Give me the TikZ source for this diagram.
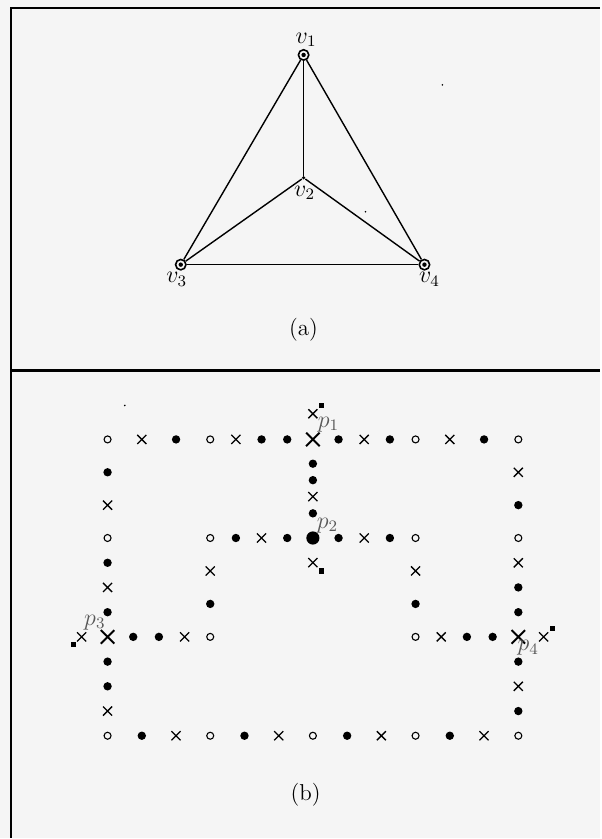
\documentclass[tikz,border=0pt]{standalone}
\usepackage{tikz}
\usetikzlibrary{shapes.misc,positioning}

\begin{document}
\begin{tikzpicture}[
    x=0.5pt, y=-0.5pt,
    font=\fontsize{11.5}{14}\selectfont,
    framebox/.style={line width=1.1pt},
    edge/.style={line width=0.7pt},
    ringvtx/.style={circle, draw, line width=0.8pt, minimum size=5.2pt, inner sep=0pt, path picture={\fill (path picture bounding box.center) circle (1.1pt);}},
    dotvtx/.style={circle, fill, minimum size=1.8pt, inner sep=0pt},
    emptypt/.style={circle, draw, line width=0.55pt, minimum size=3.5pt, inner sep=0pt},
    fullpt/.style={circle, fill, minimum size=4.2pt, inner sep=0pt},
    crosspt/.style={cross out, draw, line width=0.65pt, minimum size=3.9pt, inner sep=0pt},
    bigcross/.style={cross out, draw, line width=0.95pt, minimum size=5.8pt, inner sep=0pt},
    bigpt/.style={circle, fill, minimum size=6.6pt, inner sep=0pt},
    sqpt/.style={rectangle, fill, minimum size=2.6pt, inner sep=0pt},
    speck/.style={circle, fill, minimum size=0.9pt, inner sep=0pt},
    plabel/.style={text=black!65, inner sep=0pt}
]
\fill[black!4] (0,0) rectangle (601,839);
\draw[framebox] (11,839) -- (11,8) -- (601,8);
\draw[framebox] (11,371) -- (601,371);

% (a) the graph
\node[ringvtx] (v1) at (304,55) {};
\node[dotvtx] (v2) at (304,178) {};
\node[ringvtx] (v3) at (181,265) {};
\node[ringvtx] (v4) at (425,265) {};
\node[inner sep=0pt] (l1) at (306.5,40) {$v_1$};
\node[inner sep=0pt] (l2) at (305,193) {$v_2$};
\node[inner sep=0pt] (l3) at (177,280) {$v_3$};
\node[inner sep=0pt] (l4) at (430,280) {$v_4$};
\draw[edge] (v1) -- (v2);
\draw[edge] (v1) -- (v3);
\draw[edge] (v1) -- (v4);
\draw[edge] (v2) -- (v3);
\draw[edge] (v2) -- (v4);
\draw[edge] (v3) -- (v4);
\node[speck] (s1) at (443,85) {};
\node[speck] (s2) at (366,212) {};
\node (capa) at (304,330) {(a)};

% (b) the points
\node[bigcross] (p1) at (313.3,440) {};
\node[bigpt] (p2) at (313.3,538.7) {};
\node[bigcross] (p3) at (107.7,637.7) {};
\node[bigcross] (p4) at (519,637.7) {};
\node[plabel] (lp1) at (329,425) {$p_1$};
\node[plabel] (lp2) at (328,526) {$p_2$};
\node[plabel] (lp3) at (95,623) {$p_3$};
\node[plabel] (lp4) at (529,649) {$p_4$};

\foreach \x/\s [count=\k] in {107.7/emptypt, 142/crosspt, 176.3/fullpt, 210.5/emptypt, 236.2/crosspt, 261.9/fullpt, 287.6/fullpt,
    339/fullpt, 364.7/crosspt, 390.4/fullpt, 416.1/emptypt, 450.4/crosspt, 484.7/fullpt, 519/emptypt}
  \node[\s] (top\k) at (\x,440) {};
\foreach \x/\s [count=\k] in {107.7/emptypt, 142/fullpt, 176.3/crosspt, 210.5/emptypt, 244.8/fullpt, 279.1/crosspt, 313.3/emptypt,
    347.6/fullpt, 381.9/crosspt, 416.1/emptypt, 450.4/fullpt, 484.7/crosspt, 519/emptypt}
  \node[\s] (bot\k) at (\x,736.7) {};
\foreach \y/\s [count=\k] in {472.9/fullpt, 505.8/crosspt, 538.7/emptypt, 563.5/fullpt, 588.2/crosspt, 613/fullpt,
    662.5/fullpt, 687.2/fullpt, 712/crosspt}
  \node[\s] (lft\k) at (107.7,\y) {};
\foreach \y/\s [count=\k] in {472.9/crosspt, 505.8/fullpt, 538.7/emptypt, 563.5/crosspt, 588.2/fullpt, 613/fullpt,
    662.5/fullpt, 687.2/crosspt, 712/fullpt}
  \node[\s] (rgt\k) at (519,\y) {};
\foreach \y/\s [count=\k] in {414.3/crosspt, 464.3/fullpt, 480.8/fullpt, 497.3/crosspt, 514/fullpt, 563.3/crosspt}
  \node[\s] (mid\k) at (313.3,\y) {};
\foreach \x/\s [count=\k] in {210.5/emptypt, 236.2/fullpt, 261.9/crosspt, 287.6/fullpt, 339/fullpt, 364.7/crosspt, 390.4/fullpt, 416.1/emptypt}
  \node[\s] (cen\k) at (\x,538.7) {};
\foreach \y/\s [count=\k] in {571.7/crosspt, 604.7/fullpt, 637.7/emptypt}{
  \node[\s] (inl\k) at (210.5,\y) {};
  \node[\s] (inr\k) at (416.1,\y) {};
}
\foreach \x/\s [count=\k] in {81.7/crosspt, 133.4/fullpt, 159.1/fullpt, 184.8/crosspt, 441.8/crosspt, 467.5/fullpt, 493.3/fullpt, 544.3/crosspt}
  \node[\s] (low\k) at (\x,637.7) {};
\foreach \x/\y [count=\k] in {322.3/406, 322.3/571.7, 73.3/645.3, 553.3/629.3}
  \node[sqpt] (sq\k) at (\x,\y) {};
\node[speck] (s3) at (125,406) {};
\node (capb) at (306,796) {(b)};
\end{tikzpicture}
\end{document}
